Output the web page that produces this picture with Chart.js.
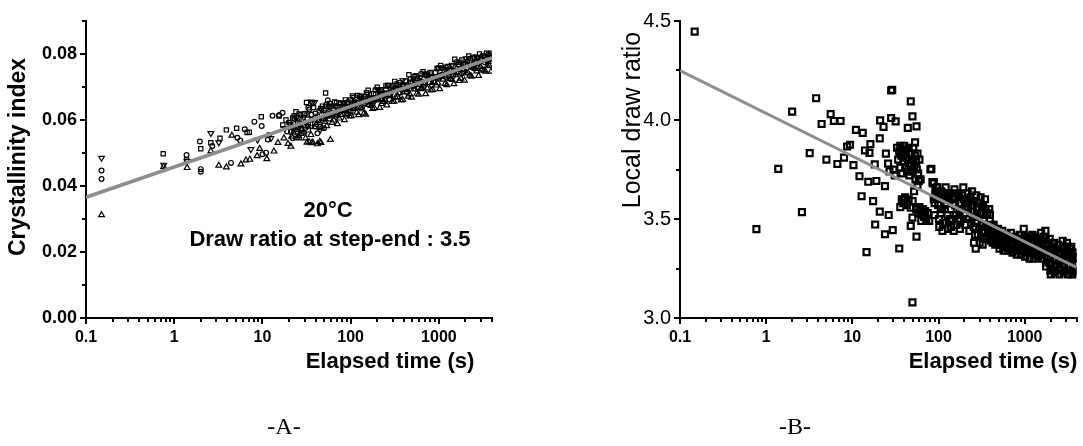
<!DOCTYPE html>
<html>
<head>
<meta charset="utf-8">
<script src="https://cdn.jsdelivr.net/npm/chart.js@4.4.1/dist/chart.umd.min.js"></script>
<style>
  html, body { margin: 0; padding: 0; background: #fff; }
  body { width: 1083px; height: 446px; position: relative; overflow: hidden; }
  canvas { position: absolute; top: 0; }
</style>
</head>
<body>
<canvas id="chartA" width="540" height="446" style="left:0"></canvas>
<canvas id="chartB" width="543" height="446" style="left:540px"></canvas>
<script>
// axes
const timeTicks = [0.1, 1, 10, 100, 1000];
const timeRange = [0.1, 4000];
const crystTicks = [0, 0.02, 0.04, 0.06, 0.08];
const crystMinor = [0.01, 0.03, 0.05, 0.07, 0.09];
const ratioTicks = [3.0, 3.5, 4.0, 4.5];
const ratioMinor = [3.25, 3.75, 4.25];

// texts
const xTitle = 'Elapsed time (s)';
const crystTitle = 'Crystallinity index';
const ratioTitle = 'Local draw ratio';
const noteTemp = '20°C';
const noteRatio = 'Draw ratio at step-end : 3.5';

// fitted lines [t, value]
const crystFit = [[0.1, 0.0366], [4000, 0.0788]];
const ratioFit = [[0.1, 4.25], [4000, 3.255]];

// panel A, one list per marker  [t (s), crystallinity]
const squareA = [
  [0.75,0.0498],[1.38,0.0479],[2.0,0.0513],[2.6,0.0531],[3.3,0.0545],[3.9,0.0570],[5.1,0.0575],[6.7,0.0562],
  [7.1,0.0563],[9.7,0.0610],[12,0.0555],[15.4,0.0612],[17,0.0585],[18.5,0.0600],
  [24,0.0625],[28,0.0560],[31.6,0.0653],[33,0.0570],[45,0.0580],[52,0.0682],[58,0.0650],
  [20,0.0592],[22,0.0606],[24,0.0579],[26,0.0618],[29,0.0602],[32,0.0615],[35,0.0589],[38,0.0638],
  [42,0.0611],[46,0.0635],[50,0.0629],[55,0.0612],[60,0.0641],[66,0.0655],[72,0.0638],[79,0.0632],
  [87,0.0661],[95,0.0654],[105,0.0673],[115,0.0652],[126,0.0670],[138,0.0664],[151,0.0683],[166,0.0656],
  [182,0.0680],[200,0.0699],[219,0.0692],[240,0.0681],[263,0.0705],[288,0.0693],[316,0.0717],[347,0.0706],
  [380,0.0694],[417,0.0718],[457,0.0737],[501,0.0715],[550,0.0734],[603,0.0718],[661,0.0746],[724,0.0735],
  [794,0.0744],[871,0.0717],[955,0.0756],[1047,0.0765],[1148,0.0748],[1259,0.0762],[1380,0.0751],[1514,0.0784],
  [1660,0.0768],[1820,0.0782],[1995,0.0770],[2188,0.0794],[2399,0.0788],[2630,0.0776],[2884,0.0800],[3162,0.0794],
  [3467,0.0802],[3802,0.0796],
  [20.9,0.0584],[22.9,0.0613],[25.1,0.0596],[27.5,0.0575],[30.2,0.0619],[33.1,0.0637],[36.3,0.0601],[39.8,0.0620],
  [43.7,0.0598],[47.9,0.0642],[52.5,0.0621],[57.5,0.0639],[63.1,0.0618],[69.2,0.0652],[75.9,0.0640],[83.2,0.0649],
  [91.2,0.0638],[100,0.0661],[110,0.0655],[120,0.0674],[132,0.0657],[145,0.0671],[158,0.0690],[174,0.0663],
  [191,0.0677],[209,0.0691],[229,0.0679],[251,0.0703],[275,0.0677],[302,0.0700],[331,0.0694],[363,0.0713],
  [398,0.0706],[437,0.0695],[479,0.0714],[525,0.0732],[575,0.0726],[631,0.0715],[692,0.0738],[759,0.0732],
  [832,0.0731],[912,0.0744],[1000,0.0758],[1096,0.0737],[1202,0.0760],[1318,0.0754],[1445,0.0763],[1585,0.0746],
  [1738,0.0775],[1905,0.0769],[2089,0.0767],[2291,0.0786],[2512,0.0770],[2754,0.0788],[3020,0.0782],[3311,0.0790],
  [3631,0.0779],[3890,0.0802]
];
const circleA = [
  [0.15,0.0447],[0.15,0.0421],[1.38,0.0494],[1.95,0.0535],[2.0,0.0451],[2.0,0.0443],[2.7,0.0521],[4.4,0.0470],
  [5.2,0.0546],[5.6,0.0538],[6.3,0.0572],[8.1,0.0595],[9.8,0.0582],[10,0.0496],[11,0.0501],[11.5,0.0541],
  [13,0.0613],[15.5,0.0615],[16.9,0.0622],[19,0.0565],
  [22,0.0545],[27,0.0615],[34,0.0632],[42,0.0560],[50,0.0575],[55,0.0660],
  [21,0.0564],[23,0.0603],[25,0.0591],[27.5,0.0570],[30,0.0619],[33,0.0587],[36,0.0616],[40,0.0580],
  [44,0.0628],[48,0.0607],[52.5,0.0646],[57.5,0.0604],[63,0.0633],[69,0.0617],[76,0.0650],[83,0.0629],
  [91,0.0653],[100,0.0626],[110,0.0650],[120,0.0639],[132,0.0672],[145,0.0651],[158,0.0670],[174,0.0648],
  [191,0.0692],[209,0.0671],[229,0.0664],[251,0.0693],[275,0.0662],[302,0.0690],[331,0.0709],[363,0.0683],
  [398,0.0706],[437,0.0685],[479,0.0724],[525,0.0707],[575,0.0696],[631,0.0740],[692,0.0713],[759,0.0732],
  [832,0.0706],[912,0.0744],[1000,0.0728],[1096,0.0757],[1202,0.0730],[1318,0.0749],[1445,0.0733],[1585,0.0776],
  [1738,0.0755],[1905,0.0749],[2089,0.0777],[2291,0.0761],[2512,0.0790],[2754,0.0758],[3020,0.0787],[3311,0.0775],
  [3631,0.0799],[3890,0.0787]
];
const triDownA = [
  [0.15,0.0485],[0.76,0.0464],[1.4,0.0475],[2.6,0.0560],[3.2,0.0532],[7.4,0.0511],[8.8,0.0540],[12.5,0.0545],
  [18,0.0575],[25,0.0560],[37,0.0653],[45,0.0570],
  [20.4,0.0588],[22.4,0.0572],[24.5,0.0610],[27,0.0589],[29.5,0.0608],[32.4,0.0581],[35.5,0.0655],[39,0.0654],
  [42.7,0.0602],[46.8,0.0631],[51,0.0605],[56,0.0643],[62,0.0622],[68,0.0641],[74,0.0619],[81,0.0653],
  [89,0.0642],[98,0.0630],[107,0.0669],[117,0.0648],[129,0.0666],[141,0.0645],[155,0.0679],[170,0.0667],
  [186,0.0656],[204,0.0690],[224,0.0678],[245,0.0662],[269,0.0706],[295,0.0684],[324,0.0698],[355,0.0682],
  [389,0.0720],[427,0.0704],[468,0.0693],[513,0.0726],[562,0.0710],[617,0.0729],[676,0.0702],[741,0.0741],
  [813,0.0730],[891,0.0718],[977,0.0757],[1072,0.0736],[1175,0.0754],[1288,0.0733],[1413,0.0767],[1549,0.0750],
  [1698,0.0764],[1862,0.0743],[2042,0.0786],[2239,0.0770],[2455,0.0759],[2692,0.0792],[2951,0.0776],[3236,0.0795],
  [3548,0.0773],[3850,0.0792]
];
const triUpA = [
  [0.15,0.0312],[0.76,0.0458],[1.4,0.0455],[2.6,0.0506],[3.2,0.0462],[3.9,0.0457],[4.5,0.0553],[5.7,0.0466],
  [6.5,0.0478],[7.2,0.0480],[8.7,0.0491],[9.3,0.0513],[11.2,0.0482],[13.5,0.0505],[15,0.0531],[17.5,0.0545],
  [19.5,0.0528],[21,0.0520],[26,0.0545],[32,0.0532],[36,0.0530],[42,0.0527],[46,0.0531],
  [21.4,0.0550],[23.4,0.0574],[25.7,0.0552],[28.2,0.0571],[30.9,0.0545],[33.9,0.0533],[37.2,0.0532],[40.7,0.0586],
  [44.7,0.0534],[49,0.0603],[53.7,0.0582],[58.9,0.0540],[64.6,0.0599],[70.8,0.0588],[77.6,0.0616],[85,0.0600],
  [93,0.0619],[102,0.0612],[112,0.0636],[123,0.0615],[135,0.0633],[148,0.0617],[162,0.0646],[178,0.0634],
  [195,0.0663],[214,0.0637],[234,0.0655],[257,0.0645],[282,0.0673],[309,0.0656],[339,0.0670],[372,0.0660],
  [407,0.0692],[447,0.0671],[490,0.0668],[537,0.0693],[589,0.0677],[646,0.0696],[708,0.0679],[776,0.0713],
  [851,0.0692],[933,0.0705],[1023,0.0694],[1122,0.0723],[1230,0.0706],[1349,0.0725],[1479,0.0709],[1622,0.0742],
  [1778,0.0726],[1950,0.0720],[2138,0.0743],[2344,0.0732],[2570,0.0756],[2818,0.0734],[3090,0.0753],[3388,0.0747],
  [3715,0.0765],[3900,0.0747],
  [22.4,0.0562],[24.5,0.0546],[26.9,0.0584],[29.5,0.0563],[32.4,0.0582],[35.5,0.0555],[38.9,0.0579],[42.7,0.0598],
  [46.8,0.0576],[51.3,0.0595],[56.2,0.0614],[61.7,0.0592],[67.6,0.0611],[74.1,0.0605],[81.3,0.0628],[89.1,0.0617],
  [97.7,0.0611],[107,0.0634],[117,0.0623],[129,0.0637],[141,0.0620],[155,0.0654],[170,0.0643],[186,0.0636],
  [204,0.0660],[224,0.0649],[245,0.0662],[269,0.0676],[295,0.0655],[324,0.0668],[355,0.0682],[389,0.0661],
  [427,0.0684],[468,0.0678],[513,0.0702],[562,0.0680],[617,0.0694],[676,0.0708],[741,0.0696],[813,0.0690],
  [891,0.0714],[977,0.0712],[1072,0.0731],[1175,0.0710],[1288,0.0733],[1413,0.0722],[1549,0.0736],[1698,0.0719],
  [1862,0.0753],[2042,0.0742],[2239,0.0735],[2455,0.0759],[2692,0.0748],[2951,0.0761],[3236,0.0750],[3548,0.0764],
  [3850,0.0777]
];

// panel B  [t (s), local draw ratio]
const drawRatioB = [
  [0.148,4.446],[0.77,3.449],[1.38,3.753],[2.0,4.042],[2.6,3.535],[3.2,3.833],[3.8,4.11],[4.4,3.98],
  [5.0,3.80],[5.6,4.03],[6.1,3.995],[6.7,3.778],[7.3,3.995],[8.0,3.81],[8.7,3.866],[9.4,3.875],
  [10.3,3.772],[11,3.95],[12.1,3.716],[12.8,3.615],[13.2,3.935],[14,3.846],[14.6,3.333],[15.3,3.688],
  [16.2,3.878],[15.8,3.834],[17.4,3.59],[18.2,3.776],[18.4,3.472],[19,3.692],[20.8,3.907],[21,3.998],
  [20.8,3.537],[23,3.965],[23.9,3.666],[23.9,3.423],[24.5,3.83],[26.4,3.52],[28.2,4.149],[29,4.152],
  [28.2,4.01],[29.4,3.444],[31.8,3.993],[35,3.351],[47.6,4.094],[49.8,4.018],[44,3.96],[55.5,3.968],
  [53.4,3.887],[49.8,3.079],
  [26,3.78],[27,3.74],[30,3.75],[31,3.72],[33,3.86],[34,3.80],[35,3.84],[36,3.87],[36,3.76],[37,3.82],
  [38,3.85],[38,3.73],[39,3.79],[40,3.87],[40,3.83],[41,3.76],[42,3.81],[42,3.85],[43,3.74],[44,3.80],
  [45,3.78],[45,3.86],[46,3.72],[47,3.83],[48,3.77],[49,3.80],[50,3.74],[51,3.86],[52,3.76],[53,3.82],
  [54,3.70],[55,3.79],[56,3.75],[57,3.83],[58,3.73],[60,3.80],[62,3.70],
  [36,3.56],[37.5,3.60],[39,3.58],[39.9,3.598],[41,3.61],[43,3.57],[45,3.60],[47.5,3.557],[49.8,3.507],
  [47.6,3.465],[55.5,3.411],
  [55,3.55],[58,3.53],[60,3.56],[62,3.54],[63,3.49],[64,3.52],[66,3.55],[68,3.51],[70,3.54],[72,3.50],
  [75,3.53],[78,3.49],[52,3.64],[57,3.67],[59,3.691],[50,3.59],
  [80.5,3.75],[82.6,3.753],[85,3.686],[88,3.686],[90,3.58],[92,3.62],[95,3.66],
  [86,3.68],[88,3.60],[90,3.52],[92,3.64],
  [97,3.66],[99,3.57],[101,3.50],[104,3.62],[102,3.46],
  [108,3.64],[110,3.55],[113,3.48],[115,3.60],[111,3.44],
  [121,3.66],[124,3.58],[127,3.52],[129,3.45],[126,3.62],
  [137,3.63],[139,3.55],[142,3.49],[145,3.60],[140,3.46],
  [153,3.65],[156,3.57],[159,3.52],[161,3.47],[157,3.61],
  [172,3.62],[175,3.54],[179,3.49],[182,3.58],[177,3.45],
  [194,3.66],[197,3.60],[200,3.53],[204,3.47],[202,3.56],
  [218,3.63],[221,3.55],[225,3.50],[228,3.44],[223,3.59],
  [245,3.64],[248,3.57],[252,3.51],[256,3.46],[258,3.38],[250,3.54],
  [274,3.62],[278,3.55],[282,3.48],[286,3.42],[270,3.35],[280,3.51],
  [308,3.61],[312,3.53],[316,3.47],[320,3.43],[325,3.37],[318,3.56],
  [346,3.60],[350,3.52],[355,3.46],[360,3.40],[352,3.55],
  [388,3.55],[393,3.49],[398,3.44],[404,3.39],[395,3.52],
  [436,3.47],[442,3.43],[450,3.40],[455,3.37],
  [488,3.45],[495,3.41],[503,3.38],[510,3.35],[498,3.43],
  [550,3.44],[556,3.40],[564,3.36],[570,3.34],
  [617,3.42],[625,3.39],[634,3.36],[642,3.34],[630,3.41],
  [692,3.43],[700,3.38],[710,3.35],[720,3.33],
  [776,3.41],[786,3.37],[796,3.34],[806,3.32],[790,3.39],
  [871,3.42],[882,3.38],[893,3.35],[905,3.32],
  [975,3.45],[990,3.39],[1002,3.36],[1015,3.33],[1008,3.31],[995,3.41],
  [1096,3.40],[1110,3.37],[1125,3.34],[1140,3.30],
  [1230,3.42],[1245,3.38],[1260,3.35],[1275,3.32],[1268,3.30],
  [1380,3.40],[1398,3.37],[1415,3.34],[1432,3.31],
  [1550,3.43],[1570,3.38],[1588,3.35],[1606,3.32],[1578,3.30],
  [1740,3.44],[1760,3.39],[1780,3.34],[1800,3.30],[1770,3.26],
  [1950,3.40],[1972,3.35],[1995,3.31],[2018,3.27],[2005,3.22],[1985,3.24],
  [2190,3.38],[2215,3.34],[2240,3.30],[2265,3.26],[2230,3.23],
  [2455,3.37],[2485,3.33],[2512,3.29],[2540,3.25],[2525,3.22],
  [2755,3.39],[2790,3.35],[2820,3.31],[2850,3.27],[2835,3.23],
  [3090,3.38],[3125,3.34],[3160,3.30],[3200,3.26],[3180,3.22],
  [3470,3.36],[3510,3.33],[3550,3.29],[3590,3.25],[3570,3.22],
  [3750,3.33],[3800,3.30],[3850,3.27],[3880,3.24],
  [100,3.63],[106,3.53],[118,3.57],[123,3.48],[132,3.61],[135,3.50],[148,3.58],[150,3.44],
  [165,3.63],[168,3.50],[185,3.55],[188,3.62],[210,3.58],[212,3.50],[235,3.61],[238,3.48],
  [262,3.59],[265,3.42],[290,3.58],[295,3.45],[300,3.38],[330,3.57],[335,3.50],[340,3.41],
  [370,3.53],[375,3.45],[380,3.41],[415,3.47],[420,3.42],[425,3.38],[465,3.44],[470,3.39],
  [530,3.42],[535,3.37],[590,3.41],[600,3.37],[660,3.40],[670,3.35],[740,3.40],[750,3.35],
  [830,3.39],[845,3.35],[940,3.40],[950,3.34],[1050,3.41],[1060,3.35],[1180,3.39],[1190,3.33],
  [1320,3.41],[1335,3.36],[1470,3.39],[1490,3.33],[1660,3.41],[1680,3.34],[1870,3.37],[1890,3.28],
  [2100,3.36],[2120,3.24],[2350,3.35],[2380,3.27],[2640,3.33],[2660,3.24],[2960,3.36],[2990,3.29],
  [3340,3.35],[3360,3.24],[3680,3.31],[3700,3.23]
];

const FONT = "'Liberation Sans', Arial, sans-serif";
const toXY = arr => arr.map(p => ({ x: p[0], y: p[1] }));

// short minor ticks on both axes
function minorTicks(yMinor) {
  return {
    id: 'minorTicks',
    afterDraw(chart) {
      const { ctx, chartArea: a, scales: { x, y } } = chart;
      ctx.save();
      ctx.strokeStyle = '#000';
      ctx.lineWidth = 2;
      ctx.beginPath();
      for (let e = -1; e <= 3; e++) {
        for (let k = 2; k <= 9; k++) {
          const v = k * Math.pow(10, e);
          if (v > x.max) break;
          const px = Math.round(x.getPixelForValue(v));
          ctx.moveTo(px, a.bottom);
          ctx.lineTo(px, a.bottom + 4);
        }
      }
      yMinor.forEach(v => {
        const py = Math.round(y.getPixelForValue(v));
        ctx.moveTo(a.left, py);
        ctx.lineTo(a.left - 4, py);
      });
      ctx.stroke();
      ctx.restore();
    }
  };
}

// free texts (axis titles, notes, panel letter)
function panelText(items) {
  return {
    id: 'panelText',
    afterDraw(chart) {
      const ctx = chart.ctx;
      items.forEach(it => {
        ctx.save();
        ctx.font = it.font;
        ctx.fillStyle = '#000';
        ctx.textAlign = 'center';
        ctx.textBaseline = 'middle';
        ctx.translate(it.x, it.y);
        if (it.rot) ctx.rotate(it.rot);
        ctx.fillText(it.text, 0, 0);
        ctx.restore();
      });
    }
  };
}

function axes(yMin, yMax, yTicks, yFmt, yWidth, yFont) {
  return {
    x: {
      type: 'logarithmic', min: timeRange[0], max: timeRange[1],
      afterBuildTicks: s => { s.ticks = timeTicks.map(v => ({ value: v, major: true })); },
      afterFit: s => { s.height = 446 - 318; },
      ticks: { callback: v => String(v), autoSkip: false, maxRotation: 0, color: '#000', padding: 4,
               font: { family: FONT, size: 16, weight: 'bold' } },
      grid: { drawOnChartArea: false, drawTicks: true, tickLength: 6, color: '#000', lineWidth: 2 },
      border: { display: true, color: '#000', width: 2 }
    },
    y: {
      type: 'linear', min: yMin, max: yMax,
      afterBuildTicks: s => { s.ticks = yTicks.map(v => ({ value: v })); },
      afterFit: s => { s.width = yWidth; },
      ticks: { callback: yFmt, color: '#000', padding: 3, font: yFont },
      grid: { drawOnChartArea: false, drawTicks: true, tickLength: 6, color: '#000', lineWidth: 2 },
      border: { display: true, color: '#000', width: 2 }
    }
  };
}

function fitLine(data, width) {
  return { data: toXY(data), showLine: true, borderColor: '#8e8e8e', borderWidth: width,
           pointRadius: 0, fill: false, order: 0 };
}
function markers(data, style, radius, width, rotation) {
  return { data: toXY(data), pointStyle: style, pointRadius: radius, pointRotation: rotation || 0,
           borderColor: '#000', backgroundColor: 'rgba(0,0,0,0)', borderWidth: width, order: 1 };
}

const common = {
  responsive: false, animation: false, devicePixelRatio: 1,
  plugins: { legend: { display: false }, tooltip: { enabled: false } }
};

// Panel A
new Chart(document.getElementById('chartA'), {
  type: 'scatter',
  data: {
    datasets: [
      fitLine(crystFit, 3.5),
      markers(squareA, 'rect', 3, 1.2),
      markers(circleA, 'circle', 2.4, 1.2),
      markers(triUpA, 'triangle', 3.3, 1.2),
      markers(triDownA, 'triangle', 3.3, 1.2, 180)
    ]
  },
  options: {
    ...common,
    layout: { padding: { left: 0, top: 21, right: 48, bottom: 0 } },
    scales: axes(0, 0.09, crystTicks, v => v.toFixed(2), 86, { family: FONT, size: 18, weight: 'bold' })
  },
  plugins: [minorTicks(crystMinor), panelText([
    { text: crystTitle, x: 19, y: 157, rot: -Math.PI / 2, font: 'bold 23px ' + FONT },
    { text: xTitle, x: 390, y: 362, font: 'bold 22px ' + FONT },
    { text: noteTemp, x: 328, y: 211, font: 'bold 22px ' + FONT },
    { text: noteRatio, x: 330, y: 240, font: 'bold 22px ' + FONT },
    { text: '-A-', x: 284, y: 428, font: "24px 'Liberation Serif', serif" }
  ])]
});

// Panel B
new Chart(document.getElementById('chartB'), {
  type: 'scatter',
  data: {
    datasets: [
      fitLine(ratioFit, 3),
      markers(drawRatioB, 'rect', 4.2, 2.2)
    ]
  },
  options: {
    ...common,
    layout: { padding: { left: 0, top: 21, right: 0, bottom: 0 } },
    scales: axes(3.0, 4.5, ratioTicks, v => v.toFixed(1), 140, { family: FONT, size: 20 })
  },
  plugins: [minorTicks(ratioMinor), panelText([
    { text: ratioTitle, x: 93, y: 120, rot: -Math.PI / 2, font: '25px ' + FONT },
    { text: xTitle, x: 453, y: 362, font: 'bold 22px ' + FONT },
    { text: '-B-', x: 255, y: 428, font: "24px 'Liberation Serif', serif" }
  ])]
});
</script>
</body>
</html>
